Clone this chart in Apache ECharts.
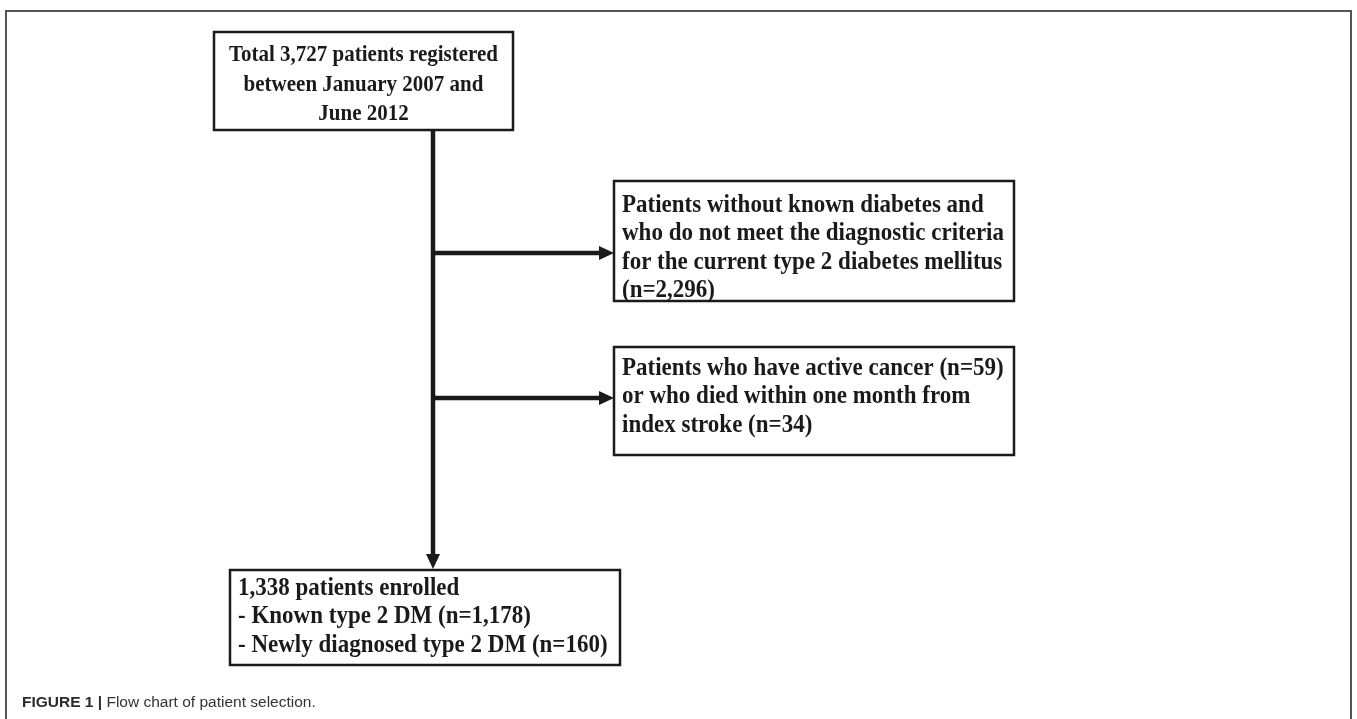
<!DOCTYPE html>
<html>
<head>
<meta charset="utf-8">
<script src="https://cdn.jsdelivr.net/npm/echarts@6/dist/echarts.min.js"></script>
<style>
html,body{margin:0;padding:0;background:#fff;}
#flowChart{width:1357px;height:719px;}
</style>
</head>
<body>
<div id="flowChart"></div>
<script>
// box texts
var totalBox = ['Total 3,727 patients registered', 'between January 2007 and', 'June 2012'];
var excludeBox1 = ['Patients without known diabetes and', 'who do not meet the diagnostic criteria', 'for the current type 2 diabetes mellitus', '(n=2,296)'];
var excludeBox2 = ['Patients who have active cancer (n=59)', 'or who died within one month from', 'index stroke (n=34)'];
var enrolledBox = ['1,338 patients enrolled', '- Known type 2 DM (n=1,178)', '- Newly diagnosed type 2 DM (n=160)'];
var captionBold = 'FIGURE 1 |';
var captionText = ' Flow chart of patient selection.';

var serif = '"Liberation Serif", "Times New Roman", serif';
var lineColor = '#1a1a1a';

// build a box with its text lines
function makeBox(lines, x, y, w, h, align, padTop, lineH, fontSize){
	var els = [];
	els.push({
		type: 'rect',
		shape: {x: x, y: y, width: w, height: h},
		style: {fill: '#fff', stroke: lineColor, lineWidth: 2.5}
	});
	for(var i=0;i<lines.length;i++){
		els.push({
			type: 'text',
			x: align == 'center' ? x + w / 2 : x + 8,
			y: y + padTop + i * lineH,
			scaleY: 1.12,
			style: {
				text: lines[i],
				font: 'bold ' + fontSize + 'px ' + serif,
				fill: '#1a1a1a',
				align: align,
				verticalAlign: 'middle'
			}
		});
	}
	return els;
}

function arrowHead(tipX, tipY, dir){
	var p;
	if(dir == 'right'){
		p = [[tipX, tipY], [tipX - 15, tipY - 7], [tipX - 15, tipY + 7]];
	}else{
		p = [[tipX, tipY], [tipX - 7, tipY - 15], [tipX + 7, tipY - 15]];
	}
	return {type: 'polygon', shape: {points: p}, style: {fill: lineColor}};
}

var trunkX = 433;
var elements = [];

// outer frame
elements.push({type: 'polyline', shape: {points: [[6, 730], [6, 11], [1351, 11], [1351, 730]]}, style: {stroke: '#555', lineWidth: 2, fill: null}});

// connectors
elements.push({type: 'line', shape: {x1: trunkX, y1: 130, x2: trunkX, y2: 556}, style: {stroke: lineColor, lineWidth: 4.5}});
elements.push({type: 'line', shape: {x1: trunkX, y1: 253, x2: 601, y2: 253}, style: {stroke: lineColor, lineWidth: 4.5}});
elements.push({type: 'line', shape: {x1: trunkX, y1: 398, x2: 601, y2: 398}, style: {stroke: lineColor, lineWidth: 4.5}});
elements.push(arrowHead(614, 253, 'right'));
elements.push(arrowHead(614, 398, 'right'));
elements.push(arrowHead(trunkX, 569, 'down'));

elements = elements.concat(makeBox(totalBox, 214, 32, 299, 98, 'center', 23, 29.5, 21));
elements = elements.concat(makeBox(excludeBox1, 614, 181, 400, 120, 'left', 24, 28.5, 23));
elements = elements.concat(makeBox(excludeBox2, 614, 347, 400, 108, 'left', 21, 28.5, 23));
elements = elements.concat(makeBox(enrolledBox, 230, 570, 390, 95, 'left', 18, 28.5, 23));

// caption
elements.push({
	type: 'text',
	x: 22, y: 703,
	style: {
		text: '{b|' + captionBold + '}{n|' + captionText + '}',
		verticalAlign: 'middle',
		rich: {
			b: {font: 'bold 15.5px "Liberation Sans", Arial, sans-serif', fill: '#2b2b2b'},
			n: {font: '15.5px "Liberation Sans", Arial, sans-serif', fill: '#333'}
		}
	}
});

var myChart = echarts.init(document.getElementById('flowChart'));
myChart.setOption({
	backgroundColor: '#fff',
	animation: false,
	graphic: {elements: elements}
});
</script>
</body>
</html>
